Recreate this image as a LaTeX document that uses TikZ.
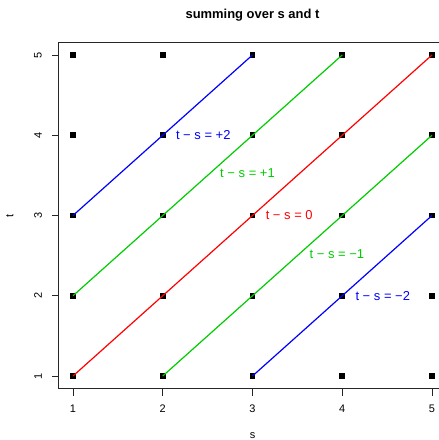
\documentclass[tikz,border=0pt]{standalone}
\usepackage{fontspec}
\setmainfont{Liberation Sans}
\usetikzlibrary{positioning}
\definecolor{rblue}{HTML}{0000FF}
\definecolor{rgreen}{HTML}{00CD00}
\definecolor{rred}{HTML}{FF0000}
\newcommand{\opgap}{\kern0.28em}

\begin{document}
\begin{tikzpicture}[
    x=1bp, y=1bp,
    every node/.style={inner sep=0pt},
    pt/.style={fill=black, minimum size=5.7bp},
    ticklab/.style={font=\fontsize{11}{12}\selectfont},
    axlab/.style={font=\fontsize{11}{12}\selectfont},
    titlelab/.style={font=\bfseries\fontsize{13}{15}\selectfont},
    difflab/.style={font=\fontsize{13}{15}\selectfont},
    diffline/.style={line width=1.2bp},
    framestyle/.style={draw=black!85, line width=0.9bp},
]
\useasboundingbox (0,0) rectangle (439,440);

\begin{scope}[shift={(-16.75,-16.25)}, x=89.75bp, y=80.25bp]

% === frame and axes ===
\draw[framestyle] (0.84,0.84) rectangle (5.16,5.16);
\foreach \s in {1,...,5} {
    \draw[framestyle] (\s,0.84) -- ++(0,-7bp);
    \node[ticklab] (xt\s) at (\s,0.589) {\s};
}
\foreach \t in {1,...,5} {
    \draw[framestyle] (0.84,\t) -- ++(-7bp,0);
    \node[ticklab, rotate=90] (yt\t) at (0.61,\t) {\t};
}
\node[axlab] (xlab) at (3,0.252) {s};
\node[axlab, rotate=90] (ylab) at (0.298,3) {t};
\node[titlelab] (title) at (3,5.5) {summing over s and t};

% === grid of points ===
\foreach \s in {1,...,5} {
    \foreach \t in {1,...,5} {
        \node[pt] (p\s\t) at (\s,\t) {};
    }
}

% === diagonals t-s = const ===
\draw[diffline, rblue]  (p13.center) -- (p35.center);
\draw[diffline, rgreen] (p12.center) -- (p45.center);
\draw[diffline, rred]   (p11.center) -- (p55.center);
\draw[diffline, rgreen] (p21.center) -- (p54.center);
\draw[diffline, rblue]  (p31.center) -- (p53.center);

% === labels ===
\node[difflab, text=rblue, right=10bp of p24, anchor=west] (d2)
    {t\opgap−\opgap s\opgap=\opgap+2};
\node[difflab, text=rgreen] (d1) at (2.944,3.53)
    {t\opgap−\opgap s\opgap=\opgap+1};
\node[difflab, text=rred, right=10bp of p33, anchor=west] (d0)
    {t\opgap−\opgap s\opgap=\opgap 0};
\node[difflab, text=rgreen] (dm1) at (3.94,2.52)
    {t\opgap−\opgap s\opgap=\opgap−1};
\node[difflab, text=rblue, right=10bp of p42, anchor=west] (dm2)
    {t\opgap−\opgap s\opgap=\opgap−2};

\end{scope}
\end{tikzpicture}
\end{document}
